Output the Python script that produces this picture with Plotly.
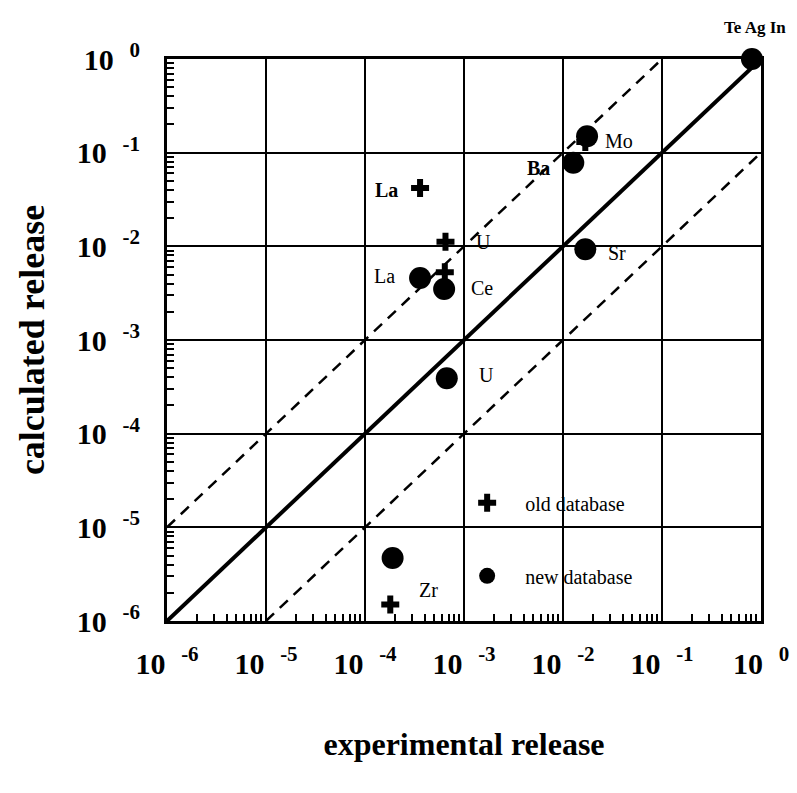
import plotly.graph_objects as go

# ---- data ----
new_elements = ["Te Ag In", "Mo", "Ba", "Sr", "La", "Ce", "U", "Zr"]
new_experimental = [0.81, 1.75e-2, 1.27e-2, 1.68e-2, 3.6e-4, 6.3e-4, 6.7e-4, 1.9e-4]
new_calculated = [1.0, 0.15, 7.8e-2, 9.3e-3, 4.6e-3, 3.5e-3, 3.9e-4, 4.7e-6]

old_elements = ["Te Ag In", "Mo", "La", "U", "Ce", "Zr"]
old_experimental = [0.81, 1.68e-2, 3.6e-4, 6.5e-4, 6.4e-4, 1.8e-4]
old_calculated = [1.0, 0.13, 4.2e-2, 1.12e-2, 5.3e-3, 1.5e-6]

# reference lines: y = x, y = 10x, y = x/10
ident_x = [1e-6, 1.0]
ident_y = [1e-6, 1.0]
upper_x = [1e-6, 1e-1]
upper_y = [1e-5, 1.0]
lower_x = [1e-5, 1.0]
lower_y = [1e-6, 1e-1]

# point labels: (text, log10 x, log10 y, bold)
label_text = ["Mo", "Ba", "U", "Sr", "Ce", "La", "La", "U", "Zr"]
label_lx = [-1.43, -2.25, -2.80, -1.45, -2.82, -3.78, -3.80, -2.77, -3.36]
label_ly = [-0.88, -1.165, -1.95, -2.07, -2.45, -1.395, -2.32, -3.37, -5.67]
label_bold = [False, True, False, False, False, True, False, False, False]

decades = [-6, -5, -4, -3, -2, -1, 0]
tick_vals = [10.0 ** d for d in decades]
NB = "\u00a0"
tick_text = [f"<b>10<sup>{NB * 3}{'-' if d < 0 else ''}{abs(d)}</sup></b>" for d in decades]
minor_vals = [m * 10.0 ** d for d in decades[:-1] for m in range(2, 10)]

FONT = "Liberation Serif"

fig = go.Figure()

fig.add_trace(go.Scatter(x=upper_x, y=upper_y, mode="lines",
                         line=dict(color="black", width=2.5, dash="11px,8px"),
                         showlegend=False, hoverinfo="skip"))
fig.add_trace(go.Scatter(x=lower_x, y=lower_y, mode="lines",
                         line=dict(color="black", width=2.5, dash="11px,8px"),
                         showlegend=False, hoverinfo="skip"))
fig.add_trace(go.Scatter(x=ident_x, y=ident_y, mode="lines",
                         line=dict(color="black", width=4),
                         showlegend=False, hoverinfo="skip"))

fig.add_trace(go.Scatter(x=old_experimental, y=old_calculated, mode="markers",
                         name="old database", text=old_elements,
                         marker=dict(symbol="cross", size=15, color="black"),
                         cliponaxis=False, legendgroup="old"))
fig.add_trace(go.Scatter(x=new_experimental, y=new_calculated, mode="markers",
                         name="new database", text=new_elements,
                         marker=dict(symbol="circle", size=22, color="black"),
                         cliponaxis=False, legendgroup="new"))

for t, lx, ly, b in zip(label_text, label_lx, label_ly, label_bold):
    fig.add_annotation(x=lx, y=ly, xref="x", yref="y", showarrow=False,
                       text=f"<b>{t}</b>" if b else t,
                       font=dict(family=FONT, size=20, color="black"))

# "Te Ag In" label above the frame
fig.add_annotation(x=-0.06, y=1.077, xref="x", yref="paper", showarrow=False,
                   text="<b>Te Ag In</b>",
                   font=dict(family=FONT, size=17, color="black"))

axis_common = dict(
    type="log",
    tickmode="array",
    tickvals=tick_vals,
    ticktext=tick_text,
    showgrid=True, gridcolor="black", gridwidth=2,
    showline=True, linecolor="black", linewidth=3, mirror=True,
    ticks="",
    tickfont=dict(family=FONT, size=30, color="black"),
    minor=dict(tickmode="array", tickvals=minor_vals, ticks="inside",
               ticklen=7, tickwidth=2, tickcolor="black", showgrid=False),
    zeroline=False,
)

fig.update_xaxes(**axis_common, range=[-6, 0], ticklabelstandoff=14,
                 title=dict(text="<b>experimental release</b>", standoff=54,
                            font=dict(family=FONT, size=32, color="black")))
fig.update_yaxes(**axis_common, range=[-6, 0], ticklabelstandoff=18,
                 title=dict(text="<b>calculated release</b>", standoff=22,
                            font=dict(family=FONT, size=36, color="black")))

fig.update_layout(
    width=797, height=793,
    margin=dict(l=167, r=36, t=59, b=172, autoexpand=False),
    paper_bgcolor="white", plot_bgcolor="white",
    font=dict(family=FONT, color="black"),
    showlegend=True,
    legend=dict(x=0.475, y=0.245, xanchor="left", yanchor="top",
                bgcolor="rgba(0,0,0,0)", borderwidth=0,
                itemwidth=66, tracegroupgap=44, traceorder="grouped",
                font=dict(family=FONT, size=20, color="black")),
)

fig.write_html("out.html", config={"displayModeBar": False},
               post_script="document.body.style.margin='0px';")
